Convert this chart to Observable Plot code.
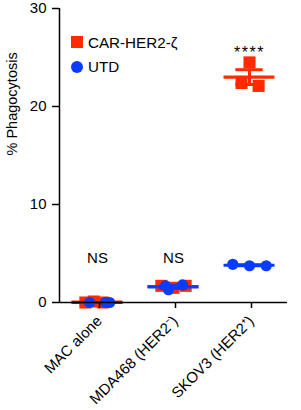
<!DOCTYPE html>
<html>
<head>
<meta charset="utf-8">
<script src="https://cdn.jsdelivr.net/npm/d3@7"></script>
<script src="https://cdn.jsdelivr.net/npm/@observablehq/plot@0.6"></script>
<style>
  html, body { margin: 0; padding: 0; background: #fff; }
  #wrap { position: relative; width: 301px; height: 410px; font-family: "Liberation Sans", Arial, Helvetica, sans-serif; }
  #legend { position: absolute; left: 71px; top: 30px; font-size: 15.2px; color: #000; }
  .item { display: flex; align-items: center; height: 24.5px; }
  .sw { width: 12px; height: 12px; margin-right: 5px; flex: none; }
</style>
</head>
<body>
<div id="wrap"><div id="legend"></div></div>
<script>
// Categories (x axis)
const groups = ["MAC alone", "MDA468 (HER2\u207B)", "SKOV3 (HER2\u207A)"];
// Series names and colours
const seriesNames = ["CAR-HER2-\u03B6", "UTD"];
const seriesColors = ["#ff2a00", "#0a3cff"];
// Replicate values (% phagocytosis) per group
const carValues = [[0.0, 0.1, 0.0], [1.7, 1.5, 1.7], [22.4, 24.5, 22.1]];
const utdValues = [[0.0, 0.0, 0.0], [1.7, 1.3, 1.8], [3.9, 3.75, 3.75]];
// Horizontal scatter of replicates within each group (category units)
const carScatter = [[-0.16, -0.05, 0.07], [-0.16, 0, 0.16], [-0.105, 0, 0.12]];
const utdScatter = [[-0.105, 0.105, 0.16], [-0.105, -0.066, 0.12], [-0.22, 0, 0.22]];
// Significance annotations
const annotLabels = ["NS", "NS", "****"];
const annotY = [4, 4, 25];
// Axis ticks
const yTicks = [0, 10, 20, 30];
const yLabel = "% Phagocytosis";

const pts = [];
const stats = [];
[carValues, utdValues].forEach((vals, s) => {
  const scat = s === 0 ? carScatter : utdScatter;
  vals.forEach((arr, g) => {
    arr.forEach((v, i) => pts.push({series: s, g, x: g + scat[g][i], y: v}));
    const m = d3.mean(arr);
    const sem = d3.deviation(arr) / Math.sqrt(arr.length);
    stats.push({series: s, g, mean: m, lo: m - sem, hi: m + sem});
  });
});
const annots = annotLabels.map((t, i) => ({g: i, y: annotY[i], t}));

const meanHalf = 0.335, capHalf = 0.18;
const font = "Liberation Sans, Arial, Helvetica, sans-serif";

function layer(s) {
  const P = pts.filter(d => d.series === s);
  const S = stats.filter(d => d.series === s);
  const c = seriesColors[s];
  return [
    Plot.ruleX(S, {x: "g", y1: "lo", y2: "hi", stroke: c, strokeWidth: 3}),
    Plot.dot(P, {x: "x", y: "y", symbol: s === 0 ? "square" : "circle", r: s === 0 ? 6.8 : 5.6, fill: c, stroke: "none"}),
    Plot.ruleY(S, {y: "mean", x1: d => d.g - meanHalf, x2: d => d.g + meanHalf, stroke: c, strokeWidth: 3.2}),
    Plot.ruleY(S, {y: "hi", x1: d => d.g - capHalf, x2: d => d.g + capHalf, stroke: c, strokeWidth: 3}),
    Plot.ruleY(S, {y: "lo", x1: d => d.g - capHalf, x2: d => d.g + capHalf, stroke: c, strokeWidth: 3})
  ];
}

const chart = Plot.plot({
  width: 301,
  height: 410,
  marginLeft: 59,
  marginRight: 14,
  marginTop: 8,
  marginBottom: 108,
  style: {fontFamily: font, fontSize: "15px", color: "#000", background: "#fff", overflow: "visible"},
  x: {type: "linear", domain: [-0.5, groups.length - 0.5]},
  y: {domain: [0, 30]},
  marks: [
    ...layer(0),
    ...layer(1),
    Plot.text(annots, {x: "g", y: "y", text: "t", lineAnchor: "bottom", fill: "#000"}),
    Plot.ruleY([0], {stroke: "#000", strokeWidth: 1.5}),
    Plot.ruleX([-0.5], {stroke: "#000", strokeWidth: 1.5}),
    Plot.axisY({ticks: yTicks, tickSize: 7, tickPadding: 6, label: null, strokeWidth: 1.5}),
    Plot.axisX({ticks: d3.range(groups.length), tickFormat: i => groups[i], tickSize: 6, tickPadding: 10, dx: 2, tickRotate: -45, label: null, strokeWidth: 1.5}),
    Plot.text([yLabel], {frameAnchor: "left", dx: -47.5, rotate: -90, fill: "#000"})
  ]
});
// enforce text sizes
const sel = d3.select(chart).selectAll("text");
sel.style("font-size", "15px").style("font-family", font);
sel.filter(function() { return this.textContent === "****"; })
  .style("font-size", "16px").style("letter-spacing", "1.5px");
sel.filter(function() { return this.textContent === yLabel; })
  .style("font-size", "14.5px");
document.getElementById("wrap").prepend(chart);

const leg = document.getElementById("legend");
seriesNames.forEach((n, s) => {
  const it = document.createElement("div");
  it.className = "item";
  const sw = document.createElement("span");
  sw.className = "sw";
  sw.style.background = seriesColors[s];
  if (s === 1) sw.style.borderRadius = "50%";
  it.appendChild(sw);
  it.appendChild(document.createTextNode(n));
  leg.appendChild(it);
});
</script>
</body>
</html>
